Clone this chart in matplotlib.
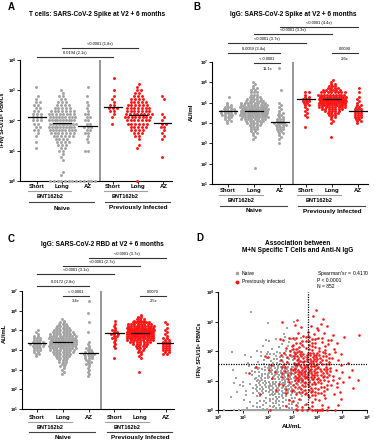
import matplotlib
matplotlib.use("Agg")
import matplotlib.pyplot as plt
import numpy as np
from matplotlib.transforms import blended_transform_factory

W, H = 375, 440
plt.rcParams["font.family"] = ["Liberation Sans", "DejaVu Sans"]
plt.rcParams["mathtext.fontset"] = "custom"
plt.rcParams["mathtext.rm"] = "Liberation Sans"
plt.rcParams["mathtext.it"] = "Liberation Sans:italic"
plt.rcParams["mathtext.bf"] = "Liberation Sans:bold"

GRAY = "#a3a3a3"
RED = "#ff1414"

groups = ["Short", "Long", "AZ", "Short", "Long", "AZ"]
cohorts = ["Naive", "Previously Infected"]

# swarm data: log10 start value per group, counts per 0.1-decade step
a_start = [1.1, 0.2, 1.0, 1.9, 1.1, 0.8]
a_counts = [
    [1, 0, 1, 0, 1, 1, 2, 2, 2, 3, 3, 3, 2, 2, 2, 2, 1, 1, 0, 0, 1],
    [1, 1, 0, 0, 0, 1, 1, 1, 2, 2, 3, 4, 4, 6, 7, 9, 10, 10, 10, 9, 8, 7, 5, 4, 3, 2, 2, 1, 1],
    [2, 0, 0, 1, 1, 1, 2, 2, 3, 2, 2, 2, 2, 1, 1, 1, 1, 0, 1, 0, 0, 1],
    [1, 0, 1, 1, 2, 3, 2, 1, 1, 1, 0, 1, 0, 0, 0, 1],
    [1, 1, 0, 1, 2, 3, 4, 5, 6, 7, 8, 8, 7, 7, 6, 5, 4, 3, 2, 2, 1, 1],
    [1, 0, 0, 0, 0, 0, 1, 1, 1, 1, 2, 2, 1, 1, 1, 0, 0, 0, 0, 1, 1],
]
a_zeros = [0, 8, 5, 0, 1, 0]
a_extra = [[], [], [], [], [], []]
a_medians = [2.12, 1.92, 1.82, 2.45, 2.18, 1.92]

b_start = [4.0, 3.2, 3.0, 3.8, 4.0, 4.0]
b_counts = [
    [1, 2, 2, 3, 4, 5, 5, 4, 3, 2, 1, 0, 0, 1],
    [1, 1, 1, 2, 2, 3, 3, 4, 5, 6, 8, 10, 12, 13, 13, 12, 10, 9, 8, 6, 5, 4, 3, 3, 2, 2, 1, 1, 1],
    [1, 0, 1, 1, 1, 2, 2, 3, 3, 4, 4, 3, 3, 2, 2, 2, 1, 1, 1, 1, 1],
    [1, 0, 0, 0, 0, 1, 1, 1, 1, 1, 1, 2, 2, 3, 3, 2, 1, 2],
    [1, 1, 1, 2, 3, 4, 5, 7, 9, 11, 13, 14, 14, 12, 10, 8, 6, 4, 3, 2, 1, 1],
    [1, 2, 2, 3, 3, 3, 3, 3, 2, 2, 1, 1, 1, 1, 0, 1, 0, 1],
]
b_zeros = [0, 0, 0, 0, 0, 0]
b_extra = [[], [1.8], [5.6, 6.7], [], [3.3], []]
b_medians = [4.6, 4.6, 4.05, 5.2, 5.2, 4.6]

c_start = [3.7, 2.8, 2.7, 3.6, 2.9, 3.8]
c_counts = [
    [1, 2, 2, 3, 3, 4, 5, 4, 3, 3, 2, 1, 1, 1],
    [1, 1, 1, 1, 2, 2, 3, 3, 4, 5, 6, 7, 8, 9, 10, 11, 11, 10, 10, 9, 8, 7, 6, 5, 4, 3, 2, 1, 1],
    [1, 1, 1, 1, 1, 1, 2, 2, 2, 3, 3, 4, 3, 2, 2, 1, 1, 1, 0, 0, 0, 0, 1],
    [1, 0, 0, 0, 0, 1, 1, 1, 1, 1, 2, 2, 3, 2, 2, 1, 1, 1, 0, 1],
    [1, 0, 0, 0, 0, 0, 0, 1, 1, 1, 2, 2, 3, 4, 5, 7, 9, 11, 13, 15, 15, 14, 12, 10, 8, 6, 4, 3, 2, 1],
    [2, 2, 3, 3, 3, 3, 3, 2, 2, 1, 1, 1, 1, 1, 0, 1, 1],
]
c_zeros = [0, 0, 0, 0, 0, 0]
c_extra = [[], [], [5.4, 5.9, 6.5], [], [], []]
c_medians = [4.35, 4.4, 3.85, 4.85, 4.85, 4.35]

# comparisons: (group i, group j, p / fold text, text under line, line y in px)
a_stats = [(1, 4, "<0.0001 (1.8x)", "", 48), (0, 3, "0.0194 (2.1x)", "", 57)]
b_stats = [(2, 5, "<0.0001 (4.4x)", "", 27), (1, 4, "<0.0001 (3.3x)", "", 34),
           (0, 3, "<0.0001 (3.7x)", "", 43), (0, 2, "0.0059 (3.4x)", "", 53),
           (1, 2, "< 0.0001", "11.1x", 63), (4, 5, "0.0090", "2.6x", 53)]
c_stats = [(2, 5, "<0.0001 (3.7x)", "", 258), (1, 4, "<0.0001 (2.7x)", "", 266),
           (0, 3, "<0.0001 (3.1x)", "", 274), (0, 2, "0.0172 (2.8x)", "", 286),
           (1, 2, "< 0.0001", "3.4x", 296), (4, 5, "0.0070", "2.5x", 296)]

# panel D: counts per 0.5 x 0.5 decade cell, rows from log y 3.0-3.5 down to 0-0.5,
# columns log x 0-0.5 ... 5.5-6; *_zero = points sitting at 10^0 SFU
d_x_edges = [0.0, 0.5, 1.0, 1.5, 2.0, 2.5, 3.0, 3.5, 4.0, 4.5, 5.0, 5.5]
d_y_edges = [3.0, 2.5, 2.0, 1.5, 1.0, 0.5, 0.0]
d_naive = [
    [0, 0, 1, 0, 0, 0, 0, 0, 0, 0, 0, 0],
    [0, 0, 0, 0, 1, 2, 1, 0, 0, 0, 0, 0],
    [0, 0, 0, 2, 4, 6, 4, 1, 0, 0, 0, 0],
    [0, 1, 3, 8, 14, 16, 9, 2, 0, 0, 0, 0],
    [0, 2, 6, 18, 30, 30, 14, 3, 0, 0, 0, 0],
    [0, 3, 7, 20, 30, 28, 12, 3, 0, 0, 0, 0],
    [0, 1, 4, 12, 18, 14, 6, 1, 0, 0, 0, 0],
]
d_naive_zero = [1, 3, 8, 14, 20, 22, 14, 6, 2, 0, 0, 0]
d_prev = [
    [0, 0, 0, 0, 0, 0, 1, 2, 1, 0, 0, 0],
    [0, 0, 0, 0, 0, 1, 3, 5, 4, 1, 0, 1],
    [0, 0, 0, 0, 1, 4, 12, 14, 8, 3, 1, 0],
    [0, 0, 0, 1, 2, 8, 22, 26, 16, 5, 1, 0],
    [0, 0, 1, 1, 3, 9, 24, 28, 18, 6, 2, 1],
    [0, 0, 0, 1, 2, 5, 14, 18, 12, 5, 2, 0],
    [0, 0, 0, 0, 1, 2, 5, 7, 5, 2, 0, 0],
]
d_prev_zero = [0, 0, 0, 0, 0, 0, 2, 4, 4, 1, 0, 0]
d_igg_cut = 4300
d_tcell_cut = 36

fig = plt.figure(figsize=(W / 100, H / 100), dpi=100)


def fy(y):
    return 1 - y / H


def add_axes(l, t, r, b):
    return fig.add_axes([l / W, 1 - b / H, (r - l) / W, (b - t) / H])


def style(ax):
    for s in ("top", "right"):
        ax.spines[s].set_visible(False)
    for s in ("left", "bottom"):
        ax.spines[s].set_linewidth(0.8)
    ax.tick_params(length=2, width=0.6, pad=0.6, labelsize=3.1)
    ax.minorticks_off()


def log_labels(ax, axis, lo, hi):
    ticks = [10.0 ** k for k in range(lo, hi + 1)]
    labels = [r"$\mathbf{10^{%d}}$" % k for k in range(lo, hi + 1)]
    if axis == "y":
        ax.set_yticks(ticks, labels)
    else:
        ax.set_xticks(ticks, labels)
    ax.minorticks_off()


def swarm_panel(ax, start, counts, zeros, extra, medians, ylo, yhi, dx):
    ax.set_yscale("log")
    for g in range(6):
        color = GRAY if g < 3 else RED
        xs, ys = [], []
        rows = [(start[g] + 0.1 * i, c) for i, c in enumerate(counts[g])]
        rows += [(v, 1) for v in extra[g]]
        if zeros[g]:
            rows.append((0.0, zeros[g]))
        for r, (v, c) in enumerate(rows):
            step = min(dx, 1.0 / max(c - 1, 1))
            shift = (0.25 if r % 2 else -0.25) * step if c % 2 == 0 or c == 1 else 0
            for j in range(c):
                xs.append(g + (j - (c - 1) / 2) * step + shift)
                ys.append(10 ** v)
        ax.scatter(xs, ys, s=4.5, color=color, linewidths=0, clip_on=False, zorder=3)
        ax.plot([g - 0.36, g + 0.36], [10 ** medians[g]] * 2, color="black", lw=0.9, zorder=4)
    ax.axvline(2.5, color="#7a7a7a", lw=1.1)
    ax.set_ylim(10 ** ylo, 10 ** yhi)
    style(ax)
    log_labels(ax, "y", ylo, yhi)
    ax.set_xticks(range(6), [""] * 6)


def group_labels(ax, y_lab, y_l1, y_bnt, y_l2, y_grp):
    tr = blended_transform_factory(ax.transData, fig.transFigure)
    for i, g in enumerate(groups):
        ax.text(i, fy(y_lab), g, transform=tr, ha="center", va="center",
                fontsize=4.3, fontweight="bold")
    for base, name in zip((0, 3), cohorts):
        ax.plot([base - 0.35, base + 1.35], [fy(y_l1)] * 2, transform=tr,
                color="#a0a0a0", lw=0.8, clip_on=False)
        ax.text(base + 0.5, fy(y_bnt), "BNT162b2", transform=tr, ha="center",
                va="center", fontsize=4.0, fontweight="bold")
        ax.plot([base - 0.3, base + 2.25], [fy(y_l2)] * 2, transform=tr,
                color="#444444", lw=0.8, clip_on=False)
        ax.text(base + 1, fy(y_grp), name, transform=tr, ha="center",
                va="center", fontsize=4.6, fontweight="bold")


def brackets(ax, stats):
    tr = blended_transform_factory(ax.transData, fig.transFigure)
    for i, j, top, below, y in stats:
        ax.plot([i, j], [fy(y)] * 2, transform=tr, color="#333333", lw=0.8, clip_on=False)
        ax.text((i + j) / 2, fy(y - 3.8), top, transform=tr, ha="center", va="center",
                fontsize=2.9)
        if below:
            ax.text((i + j) / 2, fy(y + 5.5), below, transform=tr, ha="center",
                    va="center", fontsize=2.9)


# ---- A ----
axA = add_axes(20, 60, 172, 181)
swarm_panel(axA, a_start, a_counts, a_zeros, a_extra, a_medians, 0, 4, 0.15)
axA.set_xlim(-0.67, 5.34)
group_labels(axA, 186, 191, 196, 202, 208)
brackets(axA, a_stats)
fig.text(0.3 / W, fy(120), "IFNγ SFU/10⁶ PBMCs", rotation=90, ha="left",
         va="center", fontsize=3.9, fontweight="bold")
fig.text(97 / W, fy(14), "T cells: SARS-CoV-2 Spike at V2 + 6 months", ha="center",
         va="center", fontsize=4.7, fontweight="bold")
fig.text(11 / W, fy(7), "A", ha="center", va="center", fontsize=7, fontweight="bold")

# ---- B ----
axB = add_axes(212, 62, 368, 184)
swarm_panel(axB, b_start, b_counts, b_zeros, b_extra, b_medians, 1, 7, 0.13)
axB.set_xlim(-0.615, 5.38)
group_labels(axB, 190, 195, 200, 206, 211)
brackets(axB, b_stats)
fig.text(189 / W, fy(112), "AU/ml", rotation=90, ha="left", va="center",
         fontsize=4.3, fontweight="bold")
fig.text(293 / W, fy(14), "IgG: SARS-CoV-2 Spike at V2 + 6 months", ha="center",
         va="center", fontsize=4.7, fontweight="bold")
fig.text(197 / W, fy(7), "B", ha="center", va="center", fontsize=7, fontweight="bold")

# ---- C ----
axC = add_axes(22, 291, 174, 409)
swarm_panel(axC, c_start, c_counts, c_zeros, c_extra, c_medians, 1, 7, 0.13)
axC.set_xlim(-0.58, 5.31)
group_labels(axC, 417, 422, 427, 432, 437)
brackets(axC, c_stats)
fig.text(2 / W, fy(333), "AU/mL", rotation=90, ha="left", va="center",
         fontsize=4.3, fontweight="bold")
fig.text(102 / W, fy(245), "IgG: SARS-CoV-2 RBD at V2 + 6 months", ha="center",
         va="center", fontsize=4.7, fontweight="bold")
fig.text(11 / W, fy(239), "C", ha="center", va="center", fontsize=7, fontweight="bold")

# ---- D ----
axD = add_axes(218, 292, 367, 410)
axD.set_xscale("log")
axD.set_yscale("log")


def cell_points(grid, zero_row, seed):
    xs, ys = [], []
    for r, row in enumerate(grid):
        for c, n in enumerate(row):
            off = (r * 0.317 + c * 0.529 + seed) % 1
            for k in range(n):
                u = (off + 0.5 + k * 0.7548776662) % 1
                v = (off * 0.7 + 0.5 + k * 0.5698402910) % 1
                xs.append(10 ** (d_x_edges[c] + 0.5 * u))
                ys.append(10 ** (d_y_edges[r] + 0.5 * v))
    for c, n in enumerate(zero_row):
        for k in range(n):
            u = (0.5 + k * 0.6180339887 + c * 0.21) % 1
            xs.append(10 ** (d_x_edges[c] + 0.5 * u))
            ys.append(1.0)
    return xs, ys


nx, ny = cell_points(d_naive, d_naive_zero, 0.13)
px_, py_ = cell_points(d_prev, d_prev_zero, 0.71)
axD.scatter(nx, ny, s=2.4, marker="s", color=GRAY, linewidths=0, clip_on=False, zorder=3)
axD.scatter(px_, py_, s=3.4, color=RED, linewidths=0, clip_on=False, zorder=4)
axD.axvline(d_igg_cut, color="black", lw=0.9, ls=(0, (1, 1)), zorder=5)
axD.axhline(d_tcell_cut, color="black", lw=0.9, ls=(0, (1, 1)), zorder=5)
axD.set_xlim(1, 1e6)
axD.set_ylim(1, 1e4)
style(axD)
log_labels(axD, "x", 0, 6)
log_labels(axD, "y", 0, 4)
axD.set_xlabel("AU/mL", fontsize=4.6, fontweight="bold", labelpad=1)
fig.text(197 / W, fy(350), "IFNγ SFU/10⁶ PBMCs", rotation=90, ha="left",
         va="center", fontsize=3.9, fontweight="bold")
fig.text(298 / W, fy(243), "Association between", ha="center", va="center",
         fontsize=4.7, fontweight="bold")
fig.text(298 / W, fy(250), "M+N Specific T Cells and Anti-N IgG", ha="center",
         va="center", fontsize=4.7, fontweight="bold")
fig.text(200 / W, fy(238), "D", ha="center", va="center", fontsize=7, fontweight="bold")
axD.plot([237 / W], [fy(273)], "s", ms=1.4, color=GRAY, transform=fig.transFigure, clip_on=False)
axD.plot([237 / W], [fy(282)], "o", ms=1.8, color=RED, transform=fig.transFigure, clip_on=False)
fig.text(242 / W, fy(273), "Naive", ha="left", va="center", fontsize=3.6)
fig.text(242 / W, fy(282), "Previously infected", ha="left", va="center", fontsize=3.6)
fig.text(317 / W, fy(273), "Spearman's $r$ = 0.4170", ha="left", va="center", fontsize=3.6)
fig.text(317 / W, fy(280), "P < 0.0001", ha="left", va="center", fontsize=3.6)
fig.text(317 / W, fy(287), "N = 852", ha="left", va="center", fontsize=3.6)

fig.savefig("out.png", dpi=100)
